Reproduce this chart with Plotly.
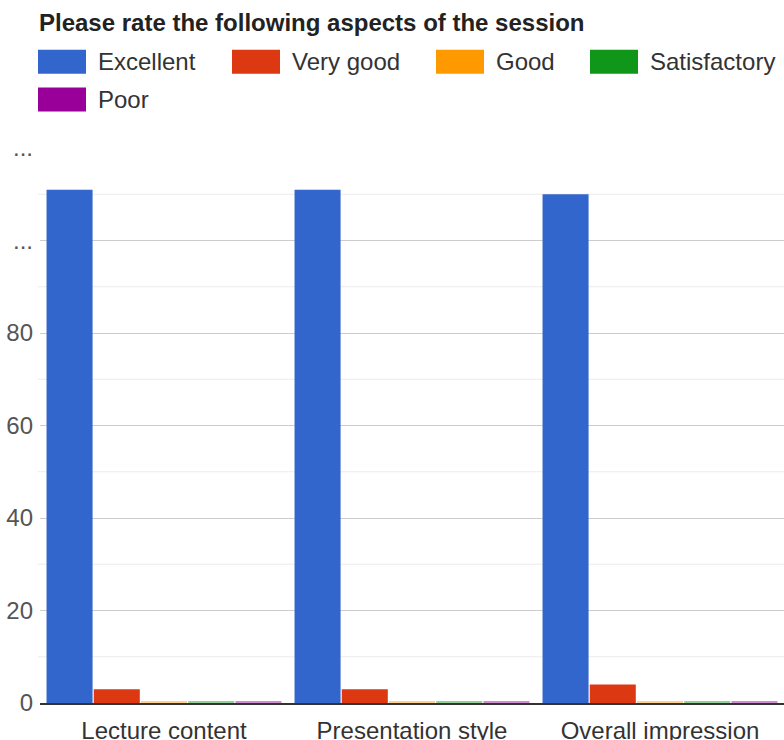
import plotly.graph_objects as go

categories = ["Lecture content", "Presentation style", "Overall impression"]
series_names = ["Excellent", "Very good", "Good", "Satisfactory", "Poor"]
excellent = [111, 111, 110]
very_good = [3, 3, 4]
good = [0, 0, 0]
satisfactory = [0, 0, 0]
poor = [0, 0, 0]
series_values = [excellent, very_good, good, satisfactory, poor]
colors = ["#3366cc", "#dc3912", "#ff9900", "#109618", "#990099"]
tick_vals = [0, 20, 40, 60, 80, 100, 120]
tick_text = ["0", "20", "40", "60", "80", "...", "..."]
title_text = "Please rate the following aspects of the session"

W, H = 784, 740
ML, MR, MT, MB = 40, 0, 147.5, 36.5
PW, PH = W - ML - MR, H - MT - MB
FONT = "Liberation Sans, Arial, sans-serif"

def px_x(px):
    return (px - ML) / PW

def px_y(py):
    return (H - MB - py) / PH

fig = go.Figure()
for name, vals, col in zip(series_names, series_values, colors):
    # zero values are drawn as a hairline at the baseline, like the original
    shown = [v if v > 0 else 0.3 for v in vals]
    fig.add_trace(go.Bar(
        x=categories, y=shown, name=name, customdata=vals,
        hovertemplate="%{x}<br>" + name + ": %{customdata}<extra></extra>",
        marker=dict(color=col, opacity=1 if max(vals) > 0 else 0.45, line=dict(width=0)),
        showlegend=False,
    ))

# minor gridlines
shapes = []
for v in range(10, 120, 20):
    shapes.append(dict(type="line", xref="paper", yref="y", x0=px_x(38), x1=1, y0=v, y1=v,
                       line=dict(color="#ebebeb", width=1), layer="below"))

annotations = [dict(text="<b>" + title_text + "</b>", xref="paper", yref="paper",
                    x=px_x(37), y=px_y(22), xanchor="left", yanchor="middle", showarrow=False,
                    font=dict(family=FONT, size=24, color="#222222"))]

legend_pos = [(38, 61), (232, 61), (436, 61), (590, 61), (38, 99)]
for (lx, ly), name, col in zip(legend_pos, series_names, colors):
    shapes.append(dict(type="rect", xref="paper", yref="paper",
                       x0=px_x(lx), x1=px_x(lx + 48), y0=px_y(ly - 12), y1=px_y(ly + 12),
                       fillcolor=col, line=dict(width=0)))
    annotations.append(dict(text=name, xref="paper", yref="paper", x=px_x(lx + 58), y=px_y(ly),
                            xanchor="left", yanchor="middle", showarrow=False,
                            font=dict(family=FONT, size=24, color="#333333")))

fig.update_layout(
    width=W, height=H,
    margin=dict(l=ML, r=MR, t=MT, b=MB, pad=0, autoexpand=False),
    paper_bgcolor="white", plot_bgcolor="white",
    barmode="group", bargap=0.048, bargroupgap=0.025,
    font=dict(family=FONT, size=24, color="#444444"),
    shapes=shapes, annotations=annotations,
    xaxis=dict(showgrid=False, showline=True, linecolor="#333333", linewidth=2,
               automargin=False,
               ticks="", tickfont=dict(size=24, color="#333333"), ticklabelstandoff=5),
    yaxis=dict(range=[0, 120], tickvals=tick_vals, ticktext=tick_text,
               automargin=False,
               showgrid=True, gridcolor="#cccccc", gridwidth=1, zeroline=False,
               showline=False, ticks="", tickfont=dict(size=24, color="#555555"),
               ticklabelstandoff=6),
    showlegend=False,
)

fig.write_html("out.html", config={"displayModeBar": False},
               post_script="document.body.style.margin='0';")
